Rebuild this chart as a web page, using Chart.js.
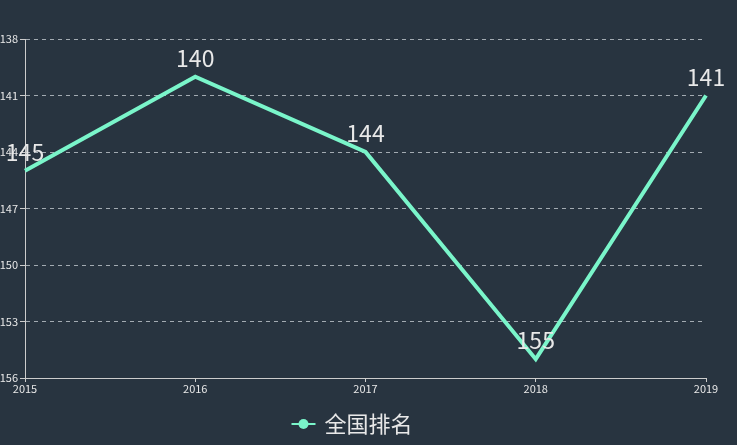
<!DOCTYPE html>
<html lang="zh">
<head>
    <meta charset="UTF-8">
    <title>全国排名</title>
    <style>
        html, body { margin: 0; padding: 0; background: #283440; }
        #wrap { width: 737px; height: 445px; }
    </style>
    <script src="https://cdn.jsdelivr.net/npm/chart.js"></script>
</head>
<body>
<div id="wrap"><canvas id="rankChart"></canvas></div>
<script>
    var years = ["2015", "2016", "2017", "2018", "2019"];
    var ranks = [145, 140, 144, 155, 141];
    var seriesName = "全国排名";
    var lineColor = "#7af5ca";
    var textColor = "#e8e8e8";
    var fontFamily = "'Noto Sans CJK SC', 'Noto Sans', sans-serif";

    // draws the value above each point, like echarts label: {show: true}
    var valueLabels = {
        id: "valueLabels",
        afterDatasetsDraw(chart) {
            var ctx = chart.ctx;
            var meta = chart.getDatasetMeta(0);
            ctx.save();
            ctx.font = "23px " + fontFamily;
            ctx.fillStyle = textColor;
            ctx.textAlign = "center";
            ctx.textBaseline = "bottom";
            meta.data.forEach((pt, i) => {
                ctx.fillText(String(ranks[i]), pt.x, pt.y - 7);
            });
            ctx.restore();
        }
    };

    // line through the legend circle
    var legendLine = {
        id: "legendLine",
        afterDraw(chart) {
            var legend = chart.legend;
            if (!legend || !legend.legendHitBoxes.length) return;
            var box = legend.legendHitBoxes[0];
            var ctx = chart.ctx;
            var cy = box.top + box.height / 2;
            var cx = box.left + 10;
            ctx.save();
            ctx.strokeStyle = lineColor;
            ctx.lineWidth = 2;
            ctx.beginPath();
            ctx.moveTo(cx - 12, cy);
            ctx.lineTo(cx + 12, cy);
            ctx.stroke();
            ctx.fillStyle = lineColor;
            ctx.beginPath();
            ctx.arc(cx, cy, 5, 0, Math.PI * 2);
            ctx.fill();
            ctx.restore();
        }
    };

    new Chart(document.getElementById("rankChart"), {
        type: "line",
        data: {
            labels: years,
            datasets: [{
                label: seriesName,
                data: ranks,
                borderColor: lineColor,
                backgroundColor: lineColor,
                borderWidth: 4,
                pointRadius: 0,
                tension: 0,
                clip: false
            }]
        },
        plugins: [valueLabels, legendLine],
        options: {
            responsive: true,
            maintainAspectRatio: false,
            animation: false,
            layout: { padding: { top: 39, right: 31, left: 0, bottom: 0 } },
            scales: {
                x: {
                    offset: false,
                    grid: {
                        drawOnChartArea: false,
                        drawTicks: true,
                        tickLength: 4,
                        color: "#cccccc"
                    },
                    border: { display: true, color: "#cccccc", width: 1 },
                    ticks: {
                        color: textColor,
                        font: { size: 11, family: fontFamily },
                        padding: 0,
                        maxRotation: 0
                    },
                    afterFit(scale) { scale.height = 24; }
                },
                y: {
                    reverse: true,
                    min: 138,
                    max: 156,
                    ticks: {
                        stepSize: 3,
                        color: textColor,
                        font: { size: 11, family: fontFamily },
                        padding: 2
                    },
                    grid: {
                        color: "#a3abb2",
                        tickBorderDash: [],
                        tickColor: "#cccccc",
                        tickLength: 5
                    },
                    border: { display: true, color: "#cccccc", width: 1, dash: [4, 4] },
                    afterFit(scale) { scale.width = 25; }
                }
            },
            plugins: {
                legend: {
                    position: "bottom",
                    labels: {
                        color: textColor,
                        font: { size: 22, family: fontFamily },
                        boxWidth: 20,
                        boxHeight: 20,
                        padding: 11,
                        generateLabels(chart) {
                            return [{
                                text: seriesName,
                                fillStyle: "rgba(0,0,0,0)",
                                strokeStyle: "rgba(0,0,0,0)",
                                lineWidth: 0,
                                fontColor: textColor,
                                datasetIndex: 0
                            }];
                        }
                    }
                },
                tooltip: { enabled: false }
            }
        }
    });
</script>
</body>
</html>
